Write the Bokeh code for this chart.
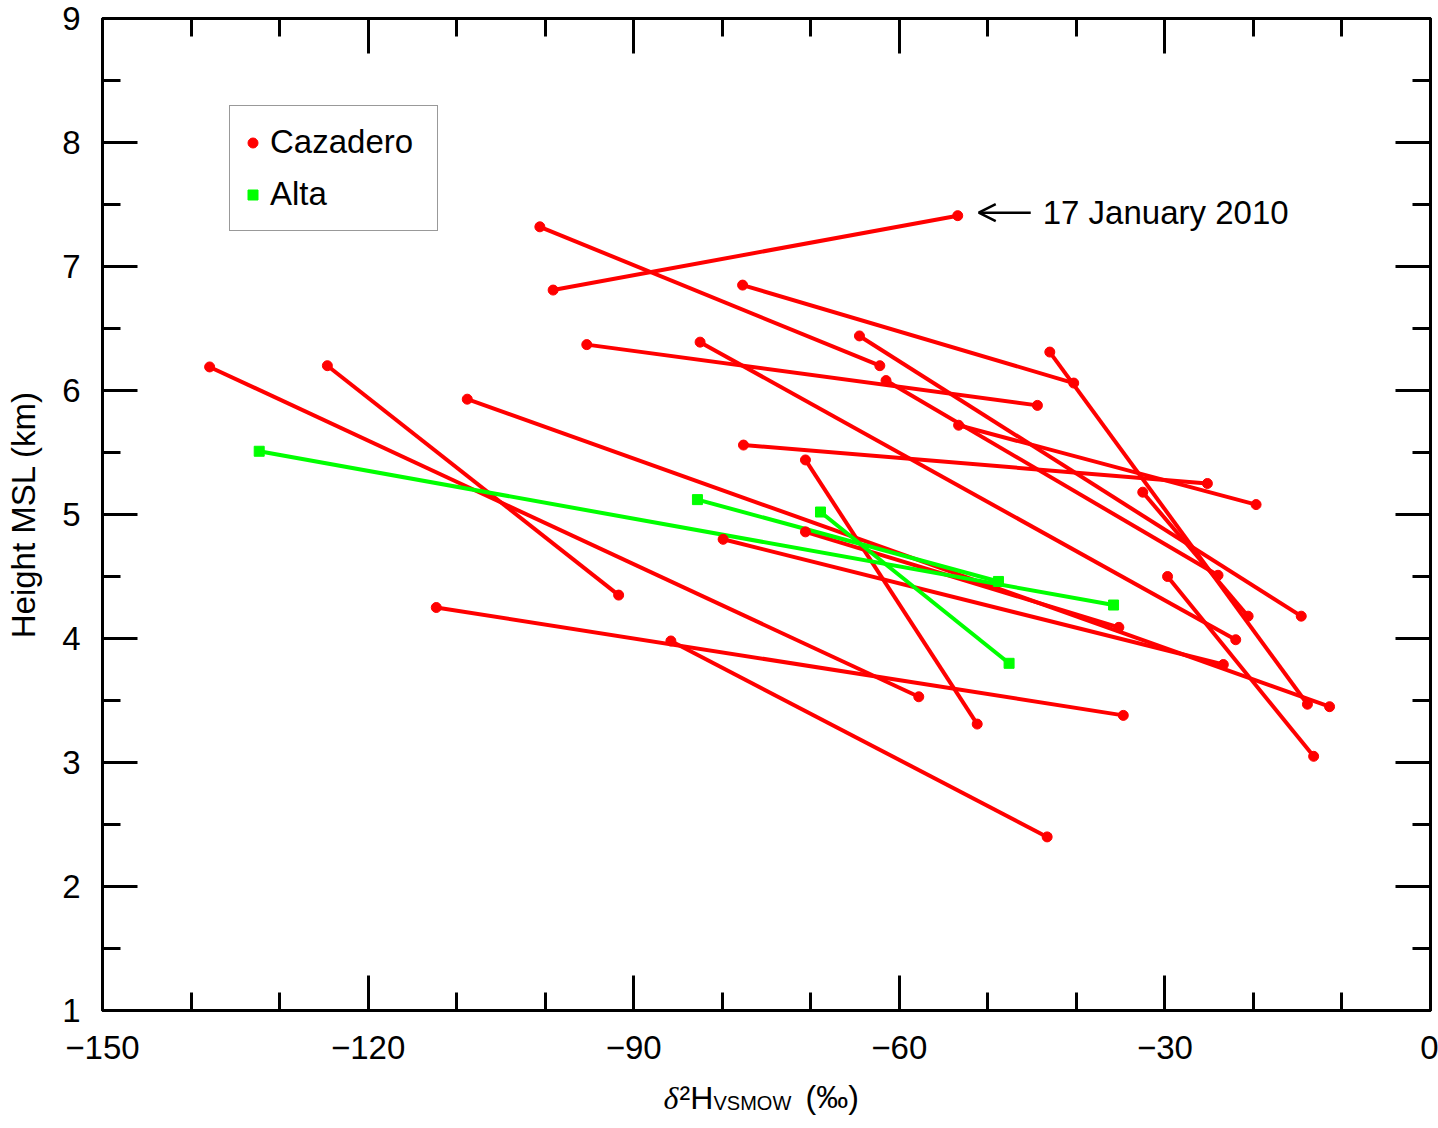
from bokeh.plotting import figure
from bokeh.layouts import column
from bokeh.models import (FixedTicker, LinearAxis, Range1d, Label, Arrow, OpenHead,
                          Legend, LegendItem)
from bokeh.embed import file_html
from bokeh.resources import INLINE

# ---------------- data ----------------
# Cazadero: each segment joins a start point (x0, y0) and an end point (x1, y1)
caz_x0 = [-53.4, -100.6, -77.7, -95.3, -82.5, -64.5, -61.5, -43.0, -53.3, -77.6,
          -137.9, -124.6, -108.8, -112.3, -85.8, -70.6, -70.6, -79.9, -32.5, -29.7]
caz_y0 = [7.41, 7.32, 6.85, 6.37, 6.39, 6.44, 6.08, 6.31, 5.72, 5.56,
          6.19, 6.20, 5.93, 4.25, 3.98, 5.44, 4.86, 4.80, 5.18, 4.50]
caz_x1 = [-99.1, -62.2, -40.3, -44.4, -22.0, -14.6, -24.0, -13.9, -19.7, -25.2,
          -57.8, -91.7, -11.4, -34.7, -43.3, -51.2, -35.2, -23.4, -20.6, -13.2]
caz_y1 = [6.81, 6.20, 6.06, 5.88, 3.99, 4.18, 4.51, 3.47, 5.08, 5.25,
          3.53, 4.35, 3.45, 3.38, 2.40, 3.31, 4.09, 3.79, 4.18, 3.05]

# Alta
alta_x0 = [-132.3, -82.8, -68.9]
alta_y0 = [5.51, 5.12, 5.02]
alta_x1 = [-35.8, -48.8, -47.6]
alta_y1 = [4.27, 4.46, 3.80]

annot_index = 0            # the Cazadero segment of 17 January 2010
annot_text = "17 January 2010"

x_ticks = [-150, -120, -90, -60, -30, 0]
x_tick_labels = ["\u2212150", "\u2212120", "\u221290", "\u221260", "\u221230", "0"]
x_minor = [-140, -130, -110, -100, -80, -70, -50, -40, -20, -10]
y_ticks = [1, 2, 3, 4, 5, 6, 7, 8, 9]
y_minor = [1.5, 2.5, 3.5, 4.5, 5.5, 6.5, 7.5, 8.5]

RED = "#ff0000"
GREEN = "#00ff00"
FONT = "Liberation Sans"

# ---------------- layout ----------------
W = 1438
H_MAIN = 1072
H_TITLE = 56
BL, BR, BT, BB = 102, 8, 18, 62
L, R = BL, W - BR
T, B = BT, H_MAIN - BB
XS = (R - L) / 150.0
YS = (B - T) / 8.0

p = figure(width=W, height=H_MAIN, x_range=Range1d(-150, 0), y_range=Range1d(1, 9),
           output_backend="svg", toolbar_location=None, title=None,
           min_border_left=BL, min_border_right=BR, min_border_top=BT,
           min_border_bottom=BB)
p.grid.visible = False
p.outline_line_color = "black"
p.outline_line_width = 3
p.background_fill_color = "white"
p.border_fill_color = "white"

p.add_layout(LinearAxis(), "above")
p.add_layout(LinearAxis(), "right")

xt = FixedTicker(ticks=x_ticks, minor_ticks=x_minor)
yt = FixedTicker(ticks=y_ticks, minor_ticks=y_minor)

for ax in p.xaxis:
    ax.ticker = xt
for ax in p.yaxis:
    ax.ticker = yt

for ax in list(p.xaxis) + list(p.yaxis):
    ax.major_tick_in = 35
    ax.major_tick_out = 0
    ax.minor_tick_in = 18
    ax.minor_tick_out = 0
    ax.major_tick_line_width = 3
    ax.minor_tick_line_width = 3
    ax.major_tick_line_color = "black"
    ax.minor_tick_line_color = "black"
    ax.axis_line_width = 3
    ax.axis_line_color = "black"
    ax.major_label_text_font = FONT
    ax.major_label_text_font_size = "33px"
    ax.major_label_text_color = "black"

bottom = p.below[0]
bottom.major_label_overrides = {t: s for t, s in zip(x_ticks, x_tick_labels)}
bottom.major_label_standoff = 25

left = p.left[0]
left.major_label_standoff = 22
left.axis_label = "Height MSL (km)"
left.axis_label_text_font = FONT
left.axis_label_text_font_size = "33px"
left.axis_label_text_font_style = "normal"
left.axis_label_text_color = "black"
left.axis_label_standoff = 17

for ax in (p.above[0], p.right[0]):
    ax.major_label_text_font_size = "0px"
    ax.major_label_standoff = 0
    ax.major_label_text_alpha = 0

# ---------------- glyphs ----------------
p.segment(x0=caz_x0, y0=caz_y0, x1=caz_x1, y1=caz_y1, line_color=RED, line_width=4)
p.segment(x0=alta_x0, y0=alta_y0, x1=alta_x1, y1=alta_y1, line_color=GREEN, line_width=4)
r_caz = p.scatter(x=caz_x0 + caz_x1, y=caz_y0 + caz_y1, marker="circle", size=10,
                  fill_color=RED, line_color=RED)
r_alta = p.scatter(x=alta_x0 + alta_x1, y=alta_y0 + alta_y1, marker="square", size=10,
                   fill_color=GREEN, line_color=GREEN)

# legend box: top at page y 105, left at page x 229 (reference)
legend = Legend(items=[LegendItem(label="Cazadero", renderers=[r_caz]),
                       LegendItem(label="Alta", renderers=[r_alta])],
                location=(127, B - 231))
legend.label_text_font = FONT
legend.label_text_font_size = "33px"
legend.label_text_color = "black"
legend.glyph_width = 25
legend.glyph_height = 25
legend.label_height = 52
legend.spacing = 0
legend.padding = 10
legend.label_standoff = 5
legend.label_width = 157
legend.border_line_color = "#333333"
legend.border_line_width = 1.5
legend.background_fill_color = "white"
legend.background_fill_alpha = 1
p.add_layout(legend)

# ---------------- annotation ----------------
ax0 = caz_x0[annot_index]
ay0 = caz_y0[annot_index]
p.add_layout(Arrow(end=OpenHead(size=17, line_width=2.5, line_color="black"),
                   x_start=ax0 + 73 / XS, y_start=ay0 + 3 / YS,
                   x_end=ax0 + 21 / XS, y_end=ay0 + 3 / YS,
                   line_width=2.5, line_color="black"))
p.add_layout(Label(x=ax0 + 85 / XS, y=ay0 + 3 / YS, text=annot_text,
                   text_font=FONT, text_font_size="33px", text_color="black",
                   text_baseline="middle", text_align="left"))

# ---------------- x axis title (with super/subscript), in a strip below ----------------
# the column aligns this strip's frame with the main frame (page x L..R)
t = figure(width=W, height=H_TITLE, x_range=Range1d(L, R),
           y_range=Range1d(H_MAIN + H_TITLE, H_MAIN), title=None,
           output_backend="svg", toolbar_location=None,
           x_axis_location=None, y_axis_location=None,
           min_border=0, min_border_left=BL, min_border_right=BR,
           min_border_top=0, min_border_bottom=0)
t.grid.visible = False
t.outline_line_color = None
t.background_fill_color = "white"
t.border_fill_color = "white"

xt_parts = [
    ("\u03b4", 663, 1097, "32px", "italic", "Liberation Serif"),
    ("\u00b2H", 679, 1097, "32px", "normal", FONT),
    ("VSMOW", 713, 1102, "20px", "normal", FONT),
    ("(\u2030)", 805, 1096, "32px", "normal", FONT),
]
for txt, gx, gy, fs, st, fnt in xt_parts:
    t.add_layout(Label(x=gx, y=gy, text=txt, text_font=fnt,
                       text_font_size=fs, text_font_style=st, text_color="black",
                       text_baseline="alphabetic", text_align="left"))

open("out.html", "w").write(file_html(column(p, t, spacing=0), INLINE))
